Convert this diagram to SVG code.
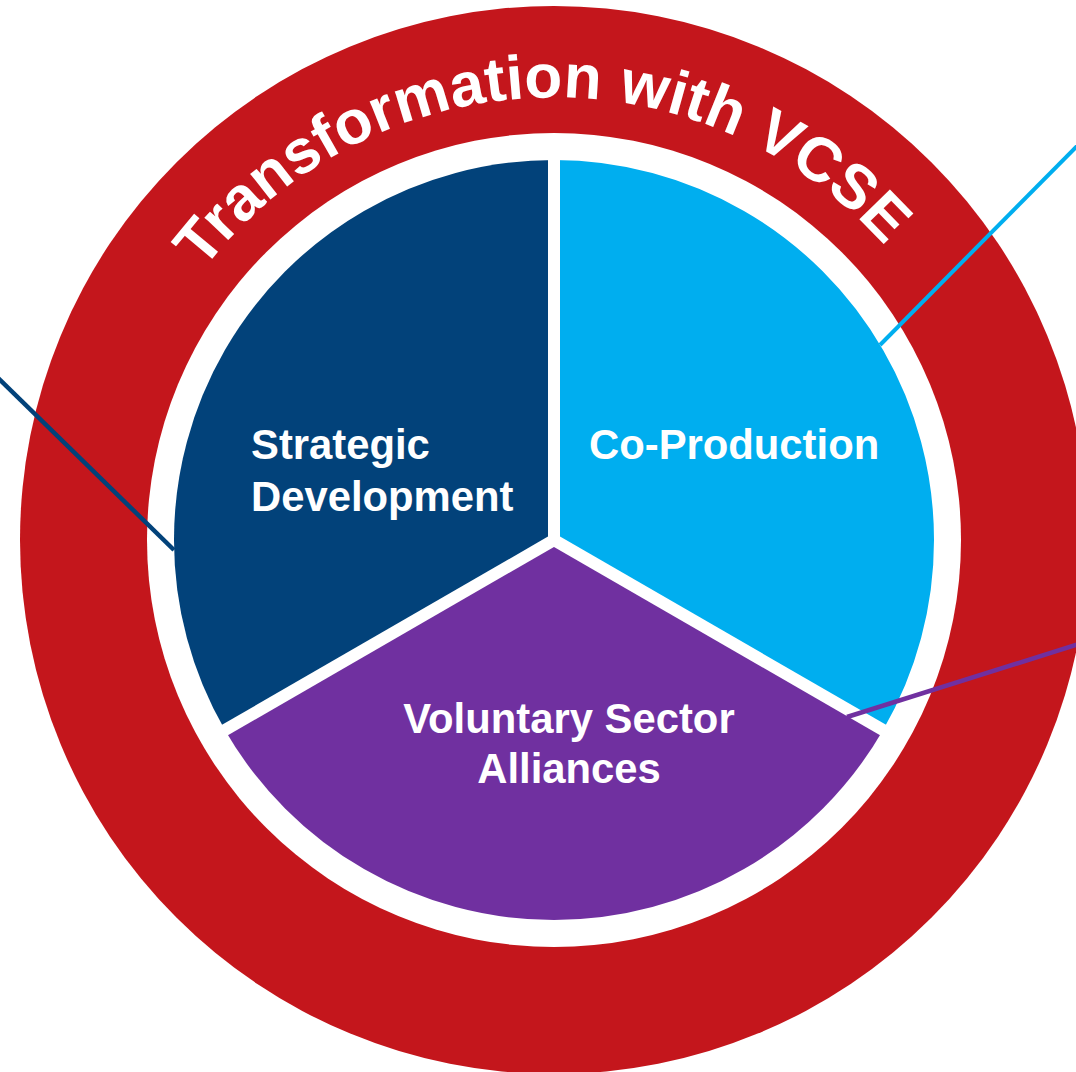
<svg xmlns="http://www.w3.org/2000/svg" width="1076" height="1072" viewBox="0 0 1076 1072">
  <style>
    .lbl { font-family: "Liberation Sans", Arial, sans-serif; font-weight: bold; font-size: 41.8px; fill: #ffffff; }
    .title { font-family: "Liberation Sans", Arial, sans-serif; font-weight: bold; font-size: 62px; fill: #ffffff; }
    .gap { stroke: #ffffff; stroke-width: 12; stroke-linecap: butt; fill: none; }
    .conn { fill: none; stroke-linecap: butt; }
  </style>
  <defs>
    <path id="titleArc" d="M111.27,555.46 A443,443 0 0 1 996.73,524.54"/>
  </defs>
  <rect width="1076" height="1072" fill="#ffffff"/>

  <g id="outer-ring">
    <circle cx="554" cy="540" r="534" fill="#c4161c"/>
    <circle cx="554" cy="540" r="407" fill="#ffffff"/>
    <text class="title"><textPath href="#titleArc" startOffset="50%" text-anchor="middle">Transformation with VCSE</textPath></text>
  </g>

  <g id="strategic-development">
    <path d="M554,540 L554,160 A380,380 0 0 0 224.9,730 Z" fill="#02427a"/>
    <text class="lbl" x="251" y="459">Strategic</text>
    <text class="lbl" x="251" y="511">Development</text>
  </g>

  <g id="co-production">
    <path d="M554,540 L554,160 A380,380 0 0 1 883.1,730 Z" fill="#00aeef"/>
    <text class="lbl" x="589" y="459">Co-Production</text>
  </g>

  <g id="voluntary-sector-alliances">
    <path d="M554,540 L224.9,730 A380,380 0 0 0 883.1,730 Z" fill="#7030a0"/>
    <text class="lbl" x="569" y="733" text-anchor="middle">Voluntary Sector</text>
    <text class="lbl" x="569" y="783" text-anchor="middle">Alliances</text>
  </g>

  <g id="dividers">
    <line class="gap" x1="554" y1="540" x2="554" y2="140"/>
    <line class="gap" x1="554" y1="540" x2="207.6" y2="740"/>
    <line class="gap" x1="554" y1="540" x2="900.4" y2="740"/>
    <circle cx="554" cy="540" r="6" fill="#ffffff"/>
  </g>

  <g id="connectors">
    <line class="conn" x1="-6" y1="374" x2="174" y2="550" stroke="#02427a" stroke-width="4.5"/>
    <line class="conn" x1="1082" y1="141" x2="880" y2="345" stroke="#00aeef" stroke-width="4"/>
    <line class="conn" x1="1082" y1="643" x2="847" y2="717" stroke="#7030a0" stroke-width="4.5"/>
  </g>
</svg>
